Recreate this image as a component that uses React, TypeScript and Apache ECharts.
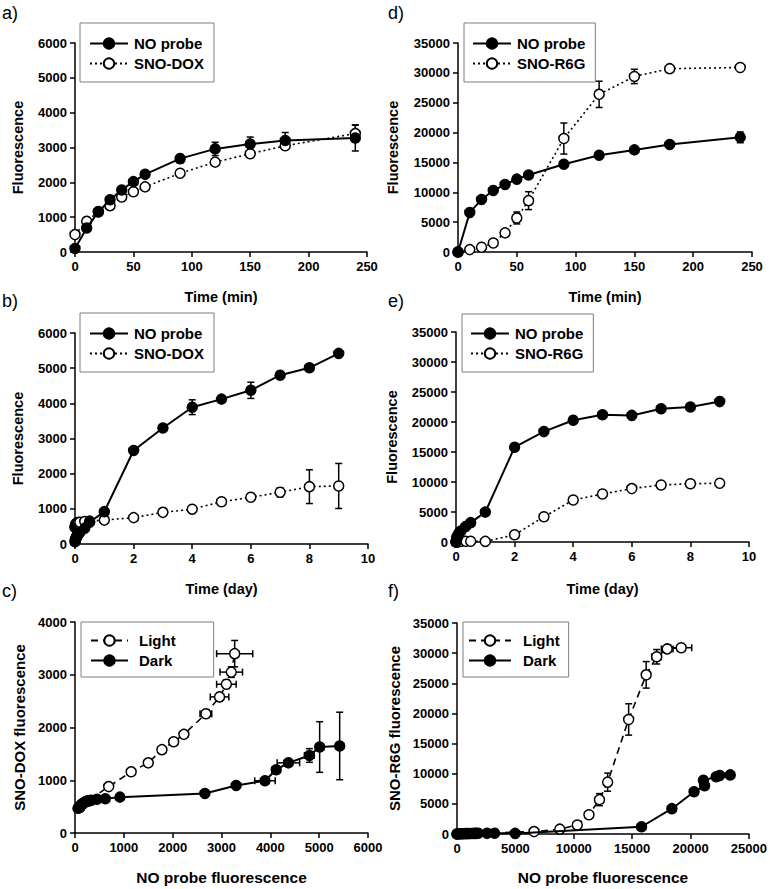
import React, { useEffect, useRef } from 'react';
import * as echarts from 'echarts';

const FONT = '"Liberation Sans", Arial, Helvetica, sans-serif';

// ---- Panel a: light, minutes ----
const minTimes = [0, 10, 20, 30, 40, 50, 60, 90, 120, 150, 180, 240];
const aNoProbe = [100, 690, 1150, 1500, 1780, 2020, 2230, 2680, 2960, 3100, 3200, 3270];
const aNoProbeErr = [30, 60, 60, 60, 70, 80, 80, 120, 190, 200, 230, 370];
const aSnoDox = [500, 880, 1160, 1330, 1580, 1730, 1870, 2260, 2580, 2820, 3050, 3400];
const aSnoDoxErr = [40, 40, 40, 40, 50, 50, 50, 60, 80, 80, 100, 250];

// ---- Panel b: dark, days ----
const dayTimes = [0, 0.007, 0.014, 0.021, 0.028, 0.035, 0.042, 0.063, 0.083, 0.104, 0.125, 0.167, 0.333, 0.5, 1, 2, 3, 4, 5, 6, 7, 8, 9];
const bNoProbe = [60, 90, 100, 130, 140, 170, 190, 220, 240, 270, 300, 330, 450, 620, 920, 2660, 3300, 3890, 4120, 4370, 4800, 5010, 5420];
const bNoProbeErr = [0, 0, 0, 0, 0, 0, 0, 0, 0, 0, 0, 0, 0, 0, 50, 60, 60, 210, 80, 230, 100, 80, 80];
const bSnoDox = [470, 480, 510, 520, 550, 560, 580, 590, 600, 610, 610, 620, 640, 650, 680, 750, 900, 990, 1200, 1330, 1470, 1630, 1650];
const bSnoDoxErr = [0, 0, 0, 0, 0, 0, 0, 0, 0, 0, 0, 0, 0, 0, 30, 40, 40, 60, 50, 50, 130, 480, 640];

// ---- Panel d: light, minutes ----
const dNoProbe = [0, 6600, 8800, 10300, 11300, 12200, 12900, 14700, 16200, 17100, 18000, 19200];
const dNoProbeErr = [0, 200, 200, 200, 200, 200, 200, 300, 300, 400, 500, 900];
const dSnoR6g = [0, 400, 800, 1500, 3200, 5700, 8600, 19000, 26400, 29400, 30700, 30900];
const dSnoR6gErr = [0, 100, 100, 200, 300, 1000, 1500, 2600, 2200, 1200, 300, 300];

// ---- Panel e: dark, days ----
const eNoProbe = [0, 120, 310, 430, 580, 760, 890, 1080, 1290, 1480, 1630, 1820, 2570, 3220, 4980, 15800, 18400, 20300, 21200, 21100, 22200, 22500, 23400];
const eSnoR6g = [0, 20, 30, 40, 40, 60, 70, 70, 90, 100, 100, 120, 110, 130, 100, 1200, 4200, 7000, 8000, 8900, 9500, 9700, 9800];

// ---- Tick settings ----
const minTicks = { min: 0, max: 250, interval: 50 };
const dayTicks = { min: 0, max: 10, interval: 2 };
const doxTicks = { min: 0, max: 6000, interval: 1000 };
const doxCorrTicks = { min: 0, max: 4000, interval: 1000 };
const r6gTicks = { min: 0, max: 35000, interval: 5000 };
const r6gCorrXTicks = { min: 0, max: 25000, interval: 5000 };

const zip = (xs: number[], ys: number[]) => xs.map((x, i) => [x, ys[i]]);
const zip4 = (xs: number[], ys: number[], exs: number[] | null, eys: number[] | null) =>
  xs.map((x, i) => [x, ys[i], exs ? exs[i] : 0, eys ? eys[i] : 0]);

function lineSeries(name: string, gi: number, data: number[][], filled: boolean, lineType: any) {
  return {
    type: 'line',
    name,
    xAxisIndex: gi,
    yAxisIndex: gi,
    data,
    symbol: 'circle',
    symbolSize: 10,
    showSymbol: true,
    clip: false,
    z: filled ? 4 : 3,
    lineStyle: { color: '#000', width: filled ? 2 : 1.6, type: lineType },
    itemStyle: { color: filled ? '#000' : '#fff', borderColor: '#000', borderWidth: 1.5 },
    emphasis: { disabled: true },
  };
}

function errSeries(gi: number, data: number[][]) {
  return {
    type: 'custom',
    xAxisIndex: gi,
    yAxisIndex: gi,
    z: 1,
    silent: true,
    clip: false,
    encode: { x: 0, y: 1 },
    data,
    renderItem: (params: any, api: any) => {
      const x = api.value(0);
      const y = api.value(1);
      const ex = api.value(2);
      const ey = api.value(3);
      const st = { stroke: '#000', lineWidth: 1.5 };
      const cap = 3.5;
      const children: any[] = [];
      if (ey > 0) {
        const t = api.coord([x, y + ey]);
        const b = api.coord([x, Math.max(0, y - ey)]);
        children.push({ type: 'line', shape: { x1: t[0], y1: t[1], x2: b[0], y2: b[1] }, style: st });
        children.push({ type: 'line', shape: { x1: t[0] - cap, y1: t[1], x2: t[0] + cap, y2: t[1] }, style: st });
        children.push({ type: 'line', shape: { x1: b[0] - cap, y1: b[1], x2: b[0] + cap, y2: b[1] }, style: st });
      }
      if (ex > 0) {
        const l = api.coord([Math.max(0, x - ex), y]);
        const r = api.coord([x + ex, y]);
        children.push({ type: 'line', shape: { x1: l[0], y1: l[1], x2: r[0], y2: r[1] }, style: st });
        children.push({ type: 'line', shape: { x1: l[0], y1: l[1] - cap, x2: l[0], y2: l[1] + cap }, style: st });
        children.push({ type: 'line', shape: { x1: r[0], y1: r[1] - cap, x2: r[0], y2: r[1] + cap }, style: st });
      }
      return { type: 'group', children };
    },
  };
}

const labelStyle = { color: '#000', fontWeight: 'bold', fontSize: 13, fontFamily: FONT, margin: 8, formatter: (v: number) => String(v) };

function xAxis(gi: number, ticks: any, name: string, nameSize: number, nameGap: number) {
  return {
    type: 'value', gridIndex: gi, ...ticks, name, nameLocation: 'middle', nameGap,
    nameTextStyle: { color: '#000', fontWeight: 'bold', fontSize: nameSize, fontFamily: FONT },
    axisLine: { show: true, onZero: false, lineStyle: { color: '#000', width: 1.5 } },
    axisTick: { show: true, length: 5, lineStyle: { color: '#000', width: 1.5 } },
    axisLabel: labelStyle,
    splitLine: { show: false },
  };
}
function yAxis(gi: number, ticks: any, name: string, nameSize: number, nameGap: number) {
  return {
    type: 'value', gridIndex: gi, ...ticks, name, nameLocation: 'middle', nameGap,
    nameTextStyle: { color: '#000', fontWeight: 'bold', fontSize: nameSize, fontFamily: FONT },
    axisLine: { show: true, onZero: false, lineStyle: { color: '#000', width: 1.5 } },
    axisTick: { show: true, length: 5, lineStyle: { color: '#000', width: 1.5 } },
    axisLabel: labelStyle,
    splitLine: { show: false },
  };
}

function legend(names: string[], left: number, top: number, padding: number[], textPad: number, itemWidth: number) {
  return {
    show: true, orient: 'vertical', left, top, data: names, padding,
    itemGap: 5, itemWidth, itemHeight: 13,
    borderColor: '#7f7f7f', borderWidth: 1, backgroundColor: '#fff',
    selectedMode: false,
    textStyle: { fontFamily: FONT, fontSize: 15, fontWeight: 'bold', color: '#000', padding: [0, 0, 0, textPad] },
  };
}

function panelLabel(text: string, left: number, top: number) {
  return { type: 'text', left, top, style: { text, font: `18px ${FONT}`, fill: '#000' } };
}

export default function App() {
  const ref = useRef<HTMLDivElement>(null);
  useEffect(() => {
    if (!ref.current) return;
    const chart = echarts.init(ref.current, undefined, { renderer: 'svg' });
    const option: any = {
      animation: false,
      backgroundColor: '#fff',
      grid: [
        { left: 75, top: 43, width: 292, height: 209 },
        { left: 75, top: 333, width: 293, height: 211 },
        { left: 75, top: 622, width: 293, height: 211 },
        { left: 458, top: 43, width: 294, height: 209 },
        { left: 456, top: 332, width: 293, height: 210 },
        { left: 457, top: 623, width: 295, height: 211 },
      ],
      xAxis: [
        xAxis(0, minTicks, 'Time (min)', 14.5, 37),
        xAxis(1, dayTicks, 'Time (day)', 14.5, 37),
        xAxis(2, doxTicks, 'NO probe fluorescence', 15.5, 36),
        xAxis(3, minTicks, 'Time (min)', 14.5, 37),
        xAxis(4, dayTicks, 'Time (day)', 14.5, 39),
        xAxis(5, r6gCorrXTicks, 'NO probe fluorescence', 15.5, 35),
      ],
      yAxis: [
        yAxis(0, doxTicks, 'Fluorescence', 14.5, 50),
        yAxis(1, doxTicks, 'Fluorescence', 14.5, 50),
        yAxis(2, doxCorrTicks, 'SNO-DOX fluorescence', 15, 48),
        yAxis(3, r6gTicks, 'Fluorescence', 14.5, 58),
        yAxis(4, r6gTicks, 'Fluorescence', 14.5, 57),
        yAxis(5, r6gTicks, 'SNO-R6G fluorescence', 15, 55),
      ],
      legend: [
        legend(['NO probe', 'SNO-DOX'], 80, 23, [13, 10, 11, 9], 1, 38),
        legend(['NO probe', 'SNO-DOX'], 80, 313, [13, 10, 11, 9], 1, 38),
        legend(['Light', 'Dark'], 81, 622, [11, 38, 9, 9], 6, 37),
        legend(['NO probe', 'SNO-R6G'], 464, 23, [13, 10, 11, 8], 1, 38),
        legend(['NO probe', 'SNO-R6G'], 462, 314, [12, 10, 11, 8], 1, 38),
        legend(['Light', 'Dark'], 463, 622, [11, 9, 9, 5], 7, 42),
      ],
      graphic: [
        panelLabel('a)', 2, 4),
        panelLabel('b)', 2, 292),
        panelLabel('c)', 2, 582),
        panelLabel('d)', 388, 4),
        panelLabel('e)', 388, 292),
        panelLabel('f)', 388, 582),
      ],
      series: [
        // a
        errSeries(0, zip4(minTimes, aNoProbe, null, aNoProbeErr)),
        errSeries(0, zip4(minTimes, aSnoDox, null, aSnoDoxErr)),
        lineSeries('SNO-DOX', 0, zip(minTimes, aSnoDox), false, [2, 3]),
        lineSeries('NO probe', 0, zip(minTimes, aNoProbe), true, 'solid'),
        // b
        errSeries(1, zip4(dayTimes, bNoProbe, null, bNoProbeErr)),
        errSeries(1, zip4(dayTimes, bSnoDox, null, bSnoDoxErr)),
        lineSeries('SNO-DOX', 1, zip(dayTimes, bSnoDox), false, [2, 3]),
        lineSeries('NO probe', 1, zip(dayTimes, bNoProbe), true, 'solid'),
        // c
        errSeries(2, zip4(aNoProbe, aSnoDox, aNoProbeErr, aSnoDoxErr)),
        errSeries(2, zip4(bNoProbe, bSnoDox, bNoProbeErr, bSnoDoxErr)),
        lineSeries('Light', 2, zip(aNoProbe, aSnoDox), false, [7, 5]),
        lineSeries('Dark', 2, zip(bNoProbe, bSnoDox), true, 'solid'),
        // d
        errSeries(3, zip4(minTimes, dNoProbe, null, dNoProbeErr)),
        errSeries(3, zip4(minTimes, dSnoR6g, null, dSnoR6gErr)),
        lineSeries('SNO-R6G', 3, zip(minTimes, dSnoR6g), false, [2, 3]),
        lineSeries('NO probe', 3, zip(minTimes, dNoProbe), true, 'solid'),
        // e
        lineSeries('SNO-R6G', 4, zip(dayTimes, eSnoR6g), false, [2, 3]),
        lineSeries('NO probe', 4, zip(dayTimes, eNoProbe), true, 'solid'),
        // f
        errSeries(5, zip4(dNoProbe, dSnoR6g, dNoProbeErr, dSnoR6gErr)),
        lineSeries('Light', 5, zip(dNoProbe, dSnoR6g), false, [7, 5]),
        lineSeries('Dark', 5, zip(eNoProbe, eSnoR6g), true, 'solid'),
      ],
    };
    chart.setOption(option);
    return () => chart.dispose();
  }, []);
  return <div ref={ref} style={{ position: 'absolute', left: 0, top: 0, width: 770, height: 889, background: '#fff' }} />;
}
